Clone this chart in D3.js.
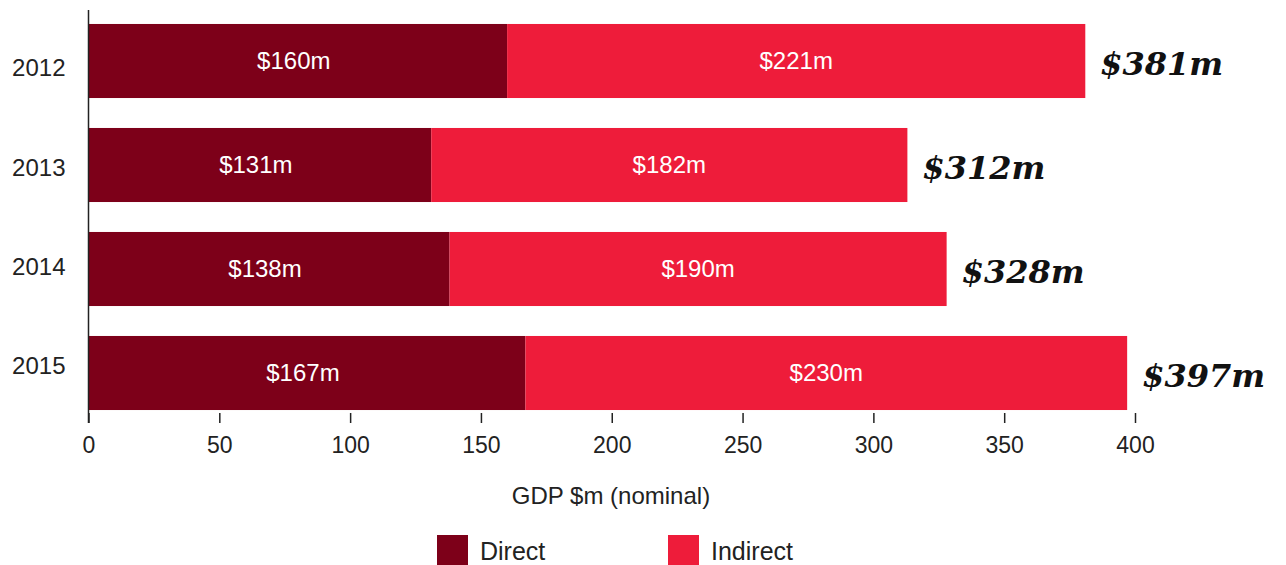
<!DOCTYPE html>
<html>
<head>
<meta charset="utf-8">
<script src="https://cdn.jsdelivr.net/npm/d3@7"></script>
<style>
  body { margin: 0; background: #fff; }
</style>
</head>
<body>
<script>
const years = ["2012", "2013", "2014", "2015"];
const direct = [160, 131, 138, 167];
const indirect = [221, 182, 190, 230];
const totals = [381, 312, 328, 397];
const xTicks = [0, 50, 100, 150, 200, 250, 300, 350, 400];
const seriesNames = ["Direct", "Indirect"];

const W = 1286, H = 565;
const darkRed = "#7d0019";
const brightRed = "#ee1c3a";
const sans = "'Liberation Sans', Arial, sans-serif";

let svg = d3.select("body").append("svg")
  .attr("width", W)
  .attr("height", H);

let x = d3.scaleLinear().domain([0, 400]).range([88.5, 1135]);
let y = d3.scaleBand().domain(years).range([9, 425])
  .paddingInner(0.288).paddingOuter(0.144);
// the year labels in the original sit on a slightly tighter spacing than the bars
let yLab = d3.scalePoint().domain(years).range([68, 366]);

let rows = years.map((yr, i) => ({ year: yr, direct: direct[i], indirect: indirect[i], total: totals[i] }));

// direct bars
svg.selectAll(".direct")
  .data(rows)
  .enter()
  .append("rect")
    .attr("class", "direct")
    .attr("fill", darkRed)
    .attr("x", x(0))
    .attr("y", d => y(d.year))
    .attr("width", d => x(d.direct) - x(0))
    .attr("height", y.bandwidth());

// indirect bars
svg.selectAll(".indirect")
  .data(rows)
  .enter()
  .append("rect")
    .attr("class", "indirect")
    .attr("fill", brightRed)
    .attr("x", d => x(d.direct))
    .attr("y", d => y(d.year))
    .attr("width", d => x(d.direct + d.indirect) - x(d.direct))
    .attr("height", y.bandwidth());

// segment labels
svg.selectAll(".dlab")
  .data(rows)
  .enter()
  .append("text")
    .attr("x", d => (x(0) + x(d.direct)) / 2 - 4)
    .attr("y", d => y(d.year) + y.bandwidth() / 2)
    .attr("dy", "0.35em")
    .attr("text-anchor", "middle")
    .attr("font-family", sans)
    .attr("font-size", "24px")
    .attr("fill", "#fff")
    .text(d => "$" + d.direct + "m");

svg.selectAll(".ilab")
  .data(rows)
  .enter()
  .append("text")
    .attr("x", d => (x(d.direct) + x(d.direct + d.indirect)) / 2)
    .attr("y", d => y(d.year) + y.bandwidth() / 2)
    .attr("dy", "0.35em")
    .attr("text-anchor", "middle")
    .attr("font-family", sans)
    .attr("font-size", "24px")
    .attr("fill", "#fff")
    .text(d => "$" + d.indirect + "m");

// totals
svg.selectAll(".tot")
  .data(rows)
  .enter()
  .append("text")
    .attr("x", d => x(d.direct + d.indirect) + 15)
    .attr("y", d => y(d.year) + y.bandwidth() / 2 + 14)
    .attr("font-family", "'DejaVu Serif', serif")
    .attr("font-weight", "bold")
    .attr("font-style", "italic")
    .attr("font-size", "32px")
    .attr("fill", "#111")
    .text(d => "$" + d.total + "m");

// y axis
let yAxis = svg.append("g")
  .attr("transform", "translate(" + x(0) + ",0)")
  .call(d3.axisLeft(yLab).tickSize(0).tickPadding(23));
yAxis.select(".domain").remove();
yAxis.selectAll("text")
  .attr("font-family", sans)
  .attr("font-size", "24px")
  .attr("fill", "#222");
svg.append("line")
  .attr("x1", x(0)).attr("x2", x(0))
  .attr("y1", 10).attr("y2", 423)
  .attr("stroke", "#222")
  .attr("stroke-width", 1.5);

// x axis
let xAxis = svg.append("g")
  .attr("transform", "translate(0,413)")
  .call(d3.axisBottom(x).tickValues(xTicks).tickSize(10).tickPadding(14));
xAxis.select(".domain").remove();
xAxis.selectAll("line").attr("stroke", "#222").attr("stroke-width", 1.5);
xAxis.selectAll("text")
  .attr("font-family", sans)
  .attr("font-size", "23px")
  .attr("fill", "#222");

svg.append("text")
  .attr("x", 611)
  .attr("y", 504)
  .attr("text-anchor", "middle")
  .attr("font-family", sans)
  .attr("font-size", "24px")
  .attr("fill", "#222")
  .text("GDP $m (nominal)");

// legend
const legendX = [437, 668];
const legendColors = [darkRed, brightRed];
seriesNames.forEach((name, i) => {
  svg.append("rect")
    .attr("x", legendX[i])
    .attr("y", 535)
    .attr("width", 31)
    .attr("height", 32)
    .attr("fill", legendColors[i]);
  svg.append("text")
    .attr("x", legendX[i] + 43)
    .attr("y", 560)
    .attr("font-family", sans)
    .attr("font-size", "25px")
    .attr("fill", "#222")
    .text(name);
});
</script>
</body>
</html>
